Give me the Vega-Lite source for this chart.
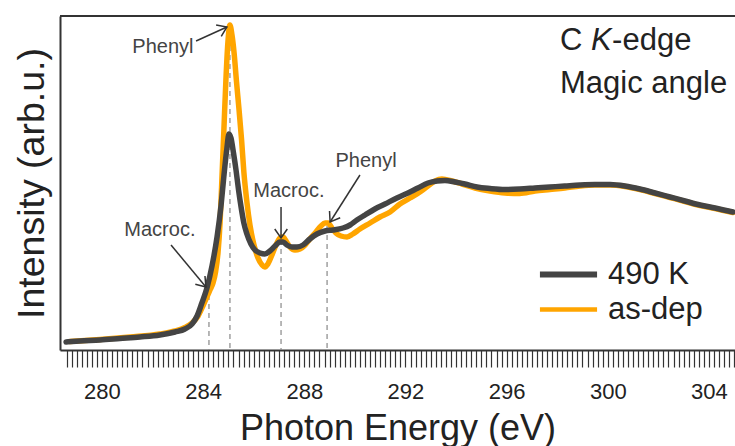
{
  "$schema": "https://vega.github.io/schema/vega-lite/v6.json",
  "width": 675,
  "height": 334,
  "autosize": "none",
  "padding": {"left": 60, "top": 16, "right": 0, "bottom": 96},
  "config": {
    "view": {"stroke": null},
    "font": "Liberation Sans",
    "legend": {"labelFont": "Liberation Sans"}
  },
  "datasets": {
    "dep": [
      {"E": 278.73, "I": 0.085}, {"E": 279.92, "I": 0.105}, {"E": 281.11, "I": 0.13}, {"E": 282.29, "I": 0.16},
      {"E": 282.89, "I": 0.19}, {"E": 283.28, "I": 0.225}, {"E": 283.56, "I": 0.27}, {"E": 283.80, "I": 0.34},
      {"E": 283.99, "I": 0.44}, {"E": 284.15, "I": 0.53}, {"E": 284.27, "I": 0.60}, {"E": 284.39, "I": 0.67},
      {"E": 284.49, "I": 0.78}, {"E": 284.59, "I": 0.98}, {"E": 284.67, "I": 1.28}, {"E": 284.74, "I": 1.70},
      {"E": 284.82, "I": 2.20}, {"E": 284.90, "I": 2.70}, {"E": 284.98, "I": 3.08}, {"E": 285.06, "I": 3.25},
      {"E": 285.14, "I": 3.15}, {"E": 285.22, "I": 2.98}, {"E": 285.32, "I": 2.68}, {"E": 285.42, "I": 2.40},
      {"E": 285.52, "I": 2.10}, {"E": 285.61, "I": 1.78}, {"E": 285.73, "I": 1.48}, {"E": 285.85, "I": 1.25},
      {"E": 286.01, "I": 1.05}, {"E": 286.17, "I": 0.92}, {"E": 286.33, "I": 0.85}, {"E": 286.44, "I": 0.83},
      {"E": 286.56, "I": 0.86}, {"E": 286.72, "I": 0.95}, {"E": 286.88, "I": 1.05}, {"E": 287.04, "I": 1.12},
      {"E": 287.16, "I": 1.13}, {"E": 287.28, "I": 1.09}, {"E": 287.43, "I": 1.03}, {"E": 287.63, "I": 1.00},
      {"E": 287.83, "I": 1.01}, {"E": 288.03, "I": 1.05}, {"E": 288.22, "I": 1.11}, {"E": 288.46, "I": 1.18},
      {"E": 288.66, "I": 1.24}, {"E": 288.82, "I": 1.27}, {"E": 288.94, "I": 1.27}, {"E": 289.09, "I": 1.22},
      {"E": 289.25, "I": 1.17}, {"E": 289.45, "I": 1.14}, {"E": 289.69, "I": 1.13}, {"E": 289.92, "I": 1.16},
      {"E": 290.20, "I": 1.21}, {"E": 290.60, "I": 1.27}, {"E": 290.99, "I": 1.33}, {"E": 291.39, "I": 1.38},
      {"E": 291.78, "I": 1.46}, {"E": 292.18, "I": 1.52}, {"E": 292.57, "I": 1.58}, {"E": 292.89, "I": 1.64},
      {"E": 293.17, "I": 1.69}, {"E": 293.44, "I": 1.71}, {"E": 293.84, "I": 1.69}, {"E": 294.23, "I": 1.66},
      {"E": 294.75, "I": 1.62}, {"E": 295.34, "I": 1.59}, {"E": 295.93, "I": 1.57}, {"E": 296.52, "I": 1.565},
      {"E": 297.12, "I": 1.59}, {"E": 297.71, "I": 1.605}, {"E": 298.30, "I": 1.62}, {"E": 298.90, "I": 1.64},
      {"E": 299.49, "I": 1.65}, {"E": 300.09, "I": 1.65}, {"E": 300.68, "I": 1.635}, {"E": 301.27, "I": 1.605},
      {"E": 301.87, "I": 1.565}, {"E": 302.46, "I": 1.525}, {"E": 303.05, "I": 1.485}, {"E": 303.65, "I": 1.445},
      {"E": 304.24, "I": 1.415}, {"E": 304.95, "I": 1.375}
    ],
    "k490": [
      {"E": 278.58, "I": 0.08}, {"E": 279.13, "I": 0.09}, {"E": 279.92, "I": 0.10}, {"E": 280.71, "I": 0.115},
      {"E": 281.50, "I": 0.13}, {"E": 282.29, "I": 0.15}, {"E": 282.89, "I": 0.18}, {"E": 283.28, "I": 0.21},
      {"E": 283.56, "I": 0.26}, {"E": 283.76, "I": 0.34}, {"E": 283.95, "I": 0.47}, {"E": 284.15, "I": 0.62},
      {"E": 284.35, "I": 0.84}, {"E": 284.55, "I": 1.13}, {"E": 284.71, "I": 1.45}, {"E": 284.82, "I": 1.74},
      {"E": 284.94, "I": 2.02}, {"E": 285.02, "I": 2.16}, {"E": 285.10, "I": 2.12}, {"E": 285.20, "I": 1.97},
      {"E": 285.30, "I": 1.80}, {"E": 285.40, "I": 1.60}, {"E": 285.50, "I": 1.43}, {"E": 285.61, "I": 1.27},
      {"E": 285.73, "I": 1.16}, {"E": 285.89, "I": 1.06}, {"E": 286.05, "I": 1.00}, {"E": 286.25, "I": 0.97},
      {"E": 286.44, "I": 0.96}, {"E": 286.64, "I": 0.99}, {"E": 286.84, "I": 1.04}, {"E": 287.04, "I": 1.08},
      {"E": 287.16, "I": 1.08}, {"E": 287.31, "I": 1.05}, {"E": 287.51, "I": 1.03}, {"E": 287.71, "I": 1.03},
      {"E": 287.95, "I": 1.05}, {"E": 288.22, "I": 1.11}, {"E": 288.50, "I": 1.16}, {"E": 288.82, "I": 1.19},
      {"E": 289.13, "I": 1.20}, {"E": 289.53, "I": 1.22}, {"E": 289.81, "I": 1.25}, {"E": 290.08, "I": 1.30},
      {"E": 290.40, "I": 1.35}, {"E": 290.79, "I": 1.41}, {"E": 291.19, "I": 1.46}, {"E": 291.66, "I": 1.52},
      {"E": 292.10, "I": 1.57}, {"E": 292.49, "I": 1.62}, {"E": 292.89, "I": 1.67}, {"E": 293.25, "I": 1.69},
      {"E": 293.56, "I": 1.695}, {"E": 293.96, "I": 1.68}, {"E": 294.35, "I": 1.66}, {"E": 294.83, "I": 1.63},
      {"E": 295.34, "I": 1.615}, {"E": 295.93, "I": 1.605}, {"E": 296.52, "I": 1.61}, {"E": 297.12, "I": 1.62},
      {"E": 297.71, "I": 1.63}, {"E": 298.30, "I": 1.64}, {"E": 298.90, "I": 1.65}, {"E": 299.49, "I": 1.655},
      {"E": 300.09, "I": 1.655}, {"E": 300.68, "I": 1.64}, {"E": 301.27, "I": 1.61}, {"E": 301.87, "I": 1.57},
      {"E": 302.46, "I": 1.53}, {"E": 303.05, "I": 1.49}, {"E": 303.65, "I": 1.45}, {"E": 304.24, "I": 1.42},
      {"E": 304.95, "I": 1.38}
    ],
    "marks": [
      {"E": 284.23, "I": 0.64}, {"E": 285.06, "I": 3.22}, {"E": 287.08, "I": 1.10}, {"E": 288.90, "I": 1.24}
    ],
    "labels": [
      {"E": 282.41, "I": 3.03, "text": "Phenyl"},
      {"E": 282.29, "I": 1.20, "text": "Macroc."},
      {"E": 287.39, "I": 1.59, "text": "Macroc."},
      {"E": 290.44, "I": 1.89, "text": "Phenyl"}
    ],
    "arrows": [
      {"E": 283.72, "I": 3.09, "E2": 284.94, "I2": 3.23, "ang": -24},
      {"E": 282.73, "I": 1.05, "E2": 284.11, "I2": 0.63, "ang": 50},
      {"E": 287.08, "I": 1.43, "E2": 287.08, "I2": 1.12, "ang": 90},
      {"E": 290.20, "I": 1.75, "E2": 289.02, "I2": 1.28, "ang": 122}
    ],
    "notes": [
      {"E": 298.11, "I": 3.00, "text": "C"},
      {"E": 300.17, "I": 3.00, "text": "-edge"},
      {"E": 298.11, "I": 2.57, "text": "Magic angle"}
    ],
    "notesItalic": [
      {"E": 299.34, "I": 3.00, "text": "K"}
    ]
  },
  "layer": [
    {
      "data": {"values": [{}]},
      "mark": {"type": "rule", "stroke": "#333", "strokeWidth": 2},
      "encoding": {"y": {"datum": 3.34, "type": "quantitative"}}
    },
    {
      "data": {"name": "marks"},
      "mark": {"type": "rule", "stroke": "#888", "strokeWidth": 1.2, "strokeDash": [5, 4]},
      "encoding": {
        "x": {"field": "E", "type": "quantitative"},
        "y": {"field": "I", "type": "quantitative"},
        "y2": {"datum": 0}
      }
    },
    {
      "data": {"name": "dep"},
      "transform": [{"calculate": "'as-dep'", "as": "series"}],
      "mark": {"type": "line", "strokeWidth": 5.5, "interpolate": "monotone", "strokeCap": "round"},
      "encoding": {
        "x": {
          "field": "E", "type": "quantitative",
          "scale": {"domain": [278.34, 305.03], "nice": false, "zero": false},
          "axis": {
            "title": "Photon Energy (eV)",
            "tickCount": 1000,
            "values": [278.6,278.8,279,279.2,279.4,279.6,279.8,280,280.2,280.4,280.6,280.8,281,281.2,281.4,281.6,281.8,282,282.2,282.4,282.6,282.8,283,283.2,283.4,283.6,283.8,284,284.2,284.4,284.6,284.8,285,285.2,285.4,285.6,285.8,286,286.2,286.4,286.6,286.8,287,287.2,287.4,287.6,287.8,288,288.2,288.4,288.6,288.8,289,289.2,289.4,289.6,289.8,290,290.2,290.4,290.6,290.8,291,291.2,291.4,291.6,291.8,292,292.2,292.4,292.6,292.8,293,293.2,293.4,293.6,293.8,294,294.2,294.4,294.6,294.8,295,295.2,295.4,295.6,295.8,296,296.2,296.4,296.6,296.8,297,297.2,297.4,297.6,297.8,298,298.2,298.4,298.6,298.8,299,299.2,299.4,299.6,299.8,300,300.2,300.4,300.6,300.8,301,301.2,301.4,301.6,301.8,302,302.2,302.4,302.6,302.8,303,303.2,303.4,303.6,303.8,304,304.2,304.4,304.6,304.8,305],
            "labelExpr": "abs(datum.value/4 - round(datum.value/4)) < 0.001 ? format(datum.value, 'd') : ''",
            "labelOverlap": false,
            "labelFlush": false,
            "labelBound": false,
            "labelFontSize": 22,
            "labelColor": "#222",
            "labelPadding": 14,
            "grid": false,
            "domain": true,
            "domainColor": "#333",
            "domainWidth": 2,
            "tickColor": "#333",
            "tickWidth": 1.2,
            "tickSize": 17,
            "encode": {
              "ticks": {
                "update": {
                  "y2": {"signal": "abs(datum.value/4 - round(datum.value/4)) < 0.001 ? 17 : (abs(datum.value - round(datum.value)) < 0.001 ? 12 : 8)"}
                }
              }
            },
            "titleFontSize": 36,
            "titleFontWeight": "normal",
            "titleColor": "#222",
            "titleBaseline": "alphabetic",
            "titleY": 89
          }
        },
        "y": {
          "field": "I", "type": "quantitative",
          "scale": {"domain": [0, 3.34], "nice": false},
          "axis": {
            "title": "Intensity (arb.u.)",
            "ticks": false,
            "labels": false,
            "grid": false,
            "domain": true,
            "domainColor": "#333",
            "domainWidth": 2,
            "titleFontSize": 37.5,
            "titleFontWeight": "normal",
            "titleColor": "#222",
            "titleBaseline": "alphabetic",
            "titleX": -17
          }
        },
        "color": {
          "field": "series", "type": "nominal",
          "scale": {"domain": ["490 K", "as-dep"], "range": ["#444444", "#FFA500"]},
          "legend": {
            "title": null,
            "orient": "none",
            "legendX": 493,
            "legendY": 243,
            "symbolType": "M-1.97,0H1.97",
            "symbolSize": 841,
            "symbolStrokeWidth": 6,
            "rowPadding": 3,
            "labelOffset": 24,
            "labelFontSize": 31,
            "labelColor": "#222",
            "encode": {"symbols": {"update": {"strokeWidth": {"signal": "datum.value === '490 K' ? 6 : 4.5"}}}}
          }
        }
      }
    },
    {
      "data": {"name": "k490"},
      "transform": [{"calculate": "'490 K'", "as": "series"}],
      "mark": {"type": "line", "strokeWidth": 5.5, "interpolate": "monotone", "strokeCap": "round"},
      "encoding": {
        "x": {"field": "E", "type": "quantitative"},
        "y": {"field": "I", "type": "quantitative"},
        "color": {"field": "series", "type": "nominal"}
      }
    },
    {
      "data": {"name": "arrows"},
      "mark": {"type": "rule", "stroke": "#333", "strokeWidth": 1.5},
      "encoding": {
        "x": {"field": "E", "type": "quantitative"},
        "y": {"field": "I", "type": "quantitative"},
        "x2": {"field": "E2"},
        "y2": {"field": "I2"}
      }
    },
    {
      "data": {"name": "arrows"},
      "mark": {"type": "point", "shape": "M-1,-0.7L0,0L-1,0.7", "filled": false, "stroke": "#333", "strokeWidth": 1.5, "size": 324, "opacity": 1},
      "encoding": {
        "x": {"field": "E2", "type": "quantitative"},
        "y": {"field": "I2", "type": "quantitative"},
        "angle": {"field": "ang", "type": "quantitative", "scale": null}
      }
    },
    {
      "data": {"name": "labels"},
      "mark": {"type": "text", "fontSize": 20, "color": "#444", "align": "center", "baseline": "middle"},
      "encoding": {
        "x": {"field": "E", "type": "quantitative"},
        "y": {"field": "I", "type": "quantitative"},
        "text": {"field": "text"}
      }
    },
    {
      "data": {"name": "notes"},
      "mark": {"type": "text", "fontSize": 31, "color": "#222", "align": "left", "baseline": "alphabetic"},
      "encoding": {
        "x": {"field": "E", "type": "quantitative"},
        "y": {"field": "I", "type": "quantitative"},
        "text": {"field": "text"}
      }
    },
    {
      "data": {"name": "notesItalic"},
      "mark": {"type": "text", "fontSize": 31, "fontStyle": "italic", "color": "#222", "align": "left", "baseline": "alphabetic"},
      "encoding": {
        "x": {"field": "E", "type": "quantitative"},
        "y": {"field": "I", "type": "quantitative"},
        "text": {"field": "text"}
      }
    }
  ]
}
